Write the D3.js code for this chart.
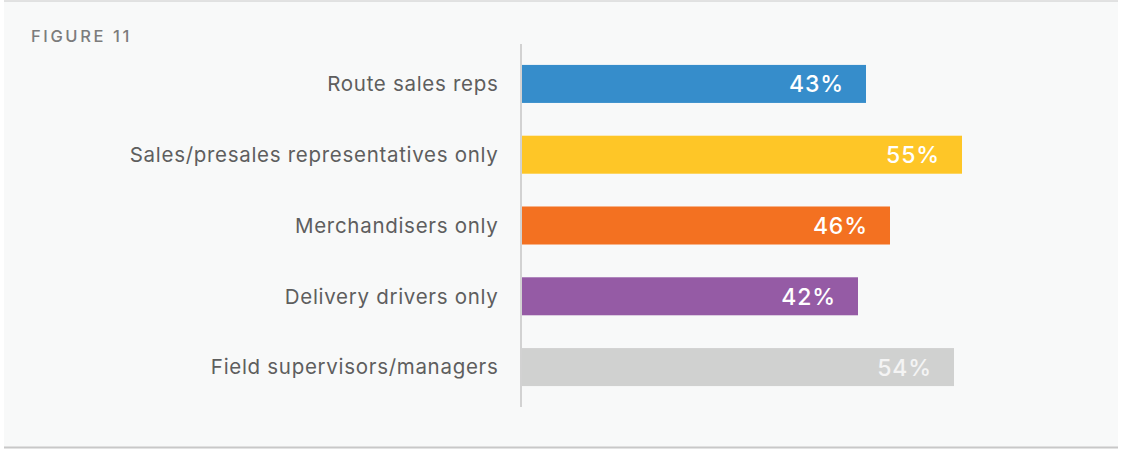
<!DOCTYPE html>
<html lang="en">
	<head>
		<meta charset="utf-8">
		<script type="text/javascript" src="https://d3js.org/d3.v7.min.js"></script>
		<style type="text/css">
			body { margin: 0; background: #fff; }
			svg { display: block; }
		</style>
	</head>
	<body>
		<script type="text/javascript">
			//Data
			var categories = ["Route sales reps", "Sales/presales representatives only", "Merchandisers only", "Delivery drivers only", "Field supervisors/managers"];
			var values = [43, 55, 46, 42, 54];
			var barColors = ["#368dcb", "#fec627", "#f37121", "#955ba5", "#d0d1d0"];
			var labelColors = ["#ffffff", "#ffffff", "#ffffff", "#ffffff", "#f4f4f4"];
			var figureTitle = "FIGURE 11";

			//Width and height
			var w = 1121;
			var h = 449;

			var svg = d3.select("body")
						.append("svg")
						.attr("width", w)
						.attr("height", h);

			//panel background and rules
			svg.append("rect")
				.attr("x", 4).attr("y", 1)
				.attr("width", 1114).attr("height", 446)
				.attr("fill", "#f8f9f9");
			svg.append("line")
				.attr("x1", 4).attr("x2", 1118).attr("y1", 1).attr("y2", 1)
				.attr("stroke", "#d8d8d8").attr("stroke-width", 1.5);
			svg.append("line")
				.attr("x1", 4).attr("x2", 1118).attr("y1", 447.5).attr("y2", 447.5)
				.attr("stroke", "#c8c8c8").attr("stroke-width", 2);

			svg.append("text")
				.attr("x", 31).attr("y", 42)
				.attr("font-family", "Inter, sans-serif")
				.attr("font-size", 16.5)
				.attr("font-weight", 500)
				.attr("letter-spacing", "2.6px")
				.attr("fill", "#7c7c7c")
				.text(figureTitle);

			//scales
			var x = d3.scaleLinear().domain([0, 100]).range([522, 1322]);
			var y = d3.scaleBand()
						.domain(categories)
						.range([48.5, 402.5])
						.paddingInner(0.463)
						.paddingOuter(0.232);

			//axis line
			svg.append("line")
				.attr("x1", 521).attr("x2", 521)
				.attr("y1", 44).attr("y2", 407)
				.attr("stroke", "#d2d2d2").attr("stroke-width", 2);

			var rows = svg.selectAll("g.row")
				.data(categories)
				.enter()
				.append("g")
				.attr("class", "row");

			rows.append("rect")
				.attr("x", x(0))
				.attr("y", function(d) { return y(d); })
				.attr("width", function(d, i) { return x(values[i]) - x(0); })
				.attr("height", y.bandwidth())
				.attr("fill", function(d, i) { return barColors[i]; });

			rows.append("text")
				.attr("x", 498.5)
				.attr("y", function(d) { return y(d) + y.bandwidth() / 2; })
				.attr("dy", "0.36em")
				.attr("text-anchor", "end")
				.attr("font-family", "Inter, sans-serif")
				.attr("font-size", 20.5)
				.attr("letter-spacing", "0.7px")
				.attr("fill", "#5e5e5e")
				.text(function(d) { return d; });

			rows.append("text")
				.attr("x", function(d, i) { return x(values[i]) - 22; })
				.attr("y", function(d) { return y(d) + y.bandwidth() / 2; })
				.attr("dy", "0.37em")
				.attr("text-anchor", "end")
				.attr("font-family", "Inter, sans-serif")
				.attr("font-size", 23)
				.attr("font-weight", 500)
				.attr("letter-spacing", "0.9px")
				.attr("fill", function(d, i) { return labelColors[i]; })
				.text(function(d, i) { return values[i] + "%"; });
		</script>
	</body>
</html>
